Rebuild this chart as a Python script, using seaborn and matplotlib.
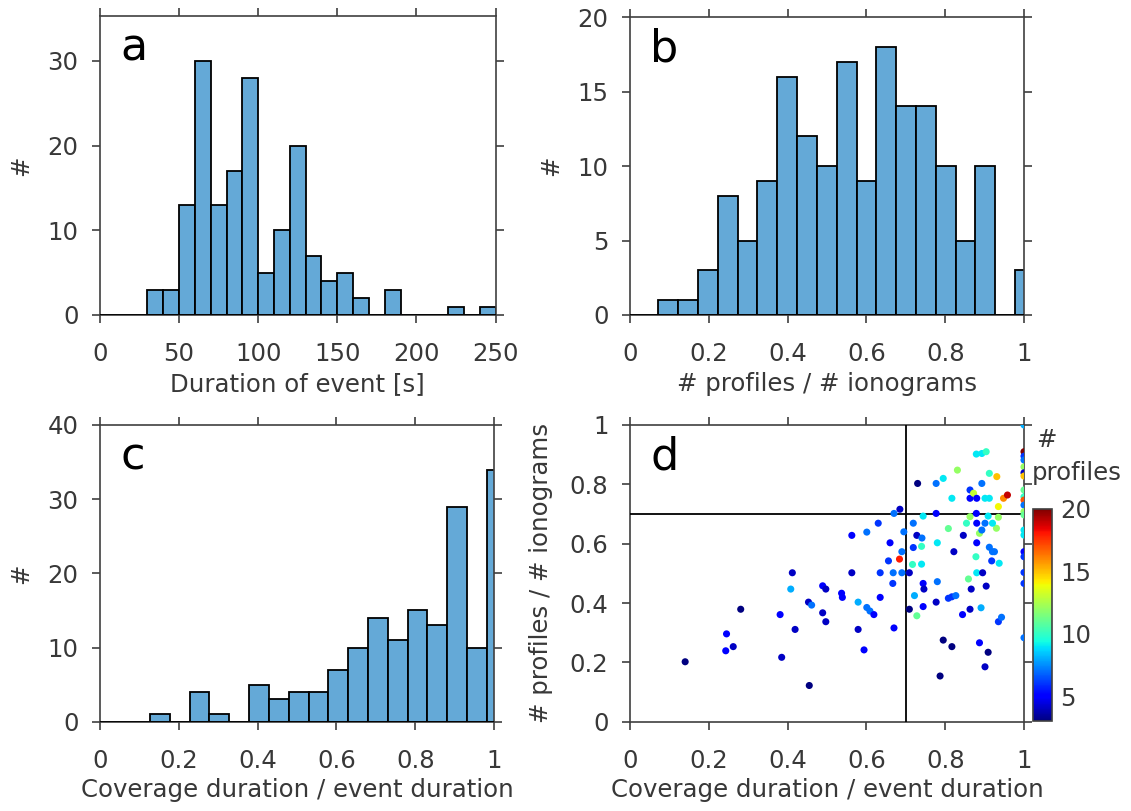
import numpy as np
import pandas as pd
import matplotlib
matplotlib.use("Agg")
import matplotlib.pyplot as plt
import seaborn as sns

# ---- data ----
# (a) event duration histogram, 10 s bins starting at 30 s
dur_bin_start = 30
dur_bin_width = 10
dur_counts = [3, 3, 13, 30, 13, 17, 28, 5, 10, 20, 7, 4, 5, 2, 0, 3, 0, 0, 0, 1, 0, 1]

# (b) profiles / ionograms histogram
ratio_bin_start = 0.072
ratio_bin_width = 0.0503
ratio_counts = [1, 1, 3, 8, 5, 9, 16, 12, 10, 17, 9, 18, 14, 14, 10, 5, 10, 0, 3]

# (c) coverage duration / event duration histogram
cov_bin_start = 0.127
cov_bin_width = 0.0503
cov_counts = [1, 0, 4, 1, 0, 5, 3, 4, 4, 7, 10, 14, 11, 15, 13, 29, 10, 34]

# (d) scatter: coverage vs ratio, coloured by number of profiles
d_coverage = [0.140, 0.245, 0.243, 0.262, 0.281, 0.385, 0.381, 0.408, 0.412, 0.419,
              0.453, 0.461, 0.455, 0.489, 0.497, 0.489, 0.497, 0.537, 0.539, 0.563,
              0.563, 0.579, 0.579, 0.601, 0.609, 0.619, 0.601, 0.594, 0.630, 0.635,
              0.635, 0.660, 0.656, 0.668, 0.667, 0.670, 0.684, 0.690, 0.690, 0.685,
              0.670, 0.695, 0.709, 0.709, 0.719, 0.717, 0.719, 0.728, 0.741, 0.730,
              0.740, 0.740, 0.744, 0.722, 0.744, 0.746, 0.744, 0.728, 0.777, 0.795,
              0.777, 0.780, 0.780, 0.777, 0.822, 0.808, 0.817, 0.831, 0.808, 0.817,
              0.827, 0.795, 0.817, 0.787, 0.844, 0.863, 0.846, 0.854, 0.863, 0.863,
              0.863, 0.872, 0.880, 0.879, 0.893, 0.904, 0.893, 0.901, 0.912, 0.912,
              0.931, 0.879, 0.880, 0.901, 0.909, 0.935, 0.935, 0.930, 0.920, 0.887,
              0.893, 0.880, 0.878, 0.880, 0.895, 0.859, 0.866, 0.904, 0.912, 0.920,
              0.918, 0.937, 0.891, 0.935, 0.943, 0.887, 0.909, 0.901, 0.948, 0.958,
              0.925,
              1.0, 1.0, 1.0, 1.0, 1.0, 1.0, 1.0, 1.0, 1.0, 1.0,
              1.0, 1.0, 1.0, 1.0, 1.0, 1.0, 1.0, 1.0, 1.0, 1.0]
d_ratio = [0.202, 0.296, 0.239, 0.253, 0.379, 0.217, 0.361, 0.447, 0.502, 0.311,
           0.403, 0.393, 0.122, 0.458, 0.447, 0.367, 0.337, 0.433, 0.419, 0.502,
           0.628, 0.403, 0.311, 0.385, 0.373, 0.361, 0.639, 0.242, 0.669, 0.502,
           0.419, 0.603, 0.542, 0.502, 0.466, 0.316, 0.548, 0.573, 0.502, 0.716,
           0.702, 0.640, 0.502, 0.379, 0.669, 0.530, 0.587, 0.628, 0.619, 0.803,
           0.591, 0.531, 0.693, 0.425, 0.466, 0.447, 0.388, 0.357, 0.803, 0.820,
           0.702, 0.603, 0.472, 0.403, 0.573, 0.651, 0.753, 0.848, 0.416, 0.421,
           0.425, 0.275, 0.253, 0.154, 0.361, 0.379, 0.628, 0.669, 0.691, 0.781,
           0.753, 0.770, 0.753, 0.902, 0.904, 0.910, 0.803, 0.753, 0.753, 0.837,
           0.826, 0.702, 0.669, 0.669, 0.693, 0.689, 0.725, 0.652, 0.669, 0.635,
           0.646, 0.603, 0.556, 0.502, 0.502, 0.481, 0.447, 0.457, 0.588, 0.573,
           0.542, 0.534, 0.384, 0.337, 0.352, 0.266, 0.234, 0.185, 0.753, 0.764,
           0.573,
           1.0, 0.910, 0.895, 0.882, 0.859, 0.839, 0.828, 0.781, 0.758, 0.747,
           0.730, 0.708, 0.697, 0.646, 0.629, 0.573, 0.556, 0.503, 0.466, 0.283]
d_profiles = [3, 5, 5, 4, 3, 4, 5, 8, 4, 4,
              4, 7, 3, 5, 4, 4, 4, 5, 5, 4,
              5, 8, 4, 7, 7, 5, 7, 5, 6, 6,
              5, 5, 6, 7, 6, 5, 18, 7, 7, 4,
              7, 7, 4, 3, 7, 10, 6, 4, 7, 3,
              10, 9, 9, 8, 5, 4, 5, 11, 7, 9,
              5, 9, 7, 4, 4, 11, 9, 12, 6, 6,
              7, 3, 3, 3, 5, 4, 4, 10, 12, 6,
              5, 13, 5, 9, 9, 10, 7, 9, 9, 10,
              15, 5, 5, 7, 9, 12, 14, 12, 9, 12,
              7, 5, 10, 9, 4, 11, 4, 4, 7, 7,
              6, 9, 8, 6, 7, 5, 3, 4, 16, 19,
              7,
              8, 20, 6, 7, 12, 4, 15, 11, 10, 17,
              7, 12, 11, 9, 9, 5, 6, 6, 6, 7]

prof_min, prof_max = 3, 20
threshold = 0.7

# ---- styling ----
sns.set_style("ticks")
plt.rcParams["font.family"] = ["DejaVu Sans"]
text_col = "#383838"
fs = 17.6
plt.rcParams.update({
    "font.size": fs,
    "axes.edgecolor": "#404040",
    "axes.linewidth": 1.2,
    "axes.labelcolor": text_col,
    "xtick.color": "#404040",
    "ytick.color": "#404040",
    "xtick.labelcolor": text_col,
    "ytick.labelcolor": text_col,
    "xtick.direction": "out",
    "ytick.direction": "out",
    "xtick.major.size": 5.5,
    "ytick.major.size": 5.5,
    "xtick.major.pad": 14,
    "ytick.major.pad": 10,
})
bar_col = "#64a9d7"
jet = matplotlib.colormaps["jet"]

fig = plt.figure(figsize=(11.31, 8.11), dpi=100)
W, H = 1131, 811


def px_axes(left, top, right, bottom):
    return fig.add_axes([left / W, 1 - bottom / H, (right - left) / W, (bottom - top) / H])


ax_a = px_axes(100, 16, 495.5, 315)
ax_b = px_axes(630, 17, 1024, 315)
ax_c = px_axes(100, 425, 494, 721.7)
ax_d = px_axes(630, 425, 1024, 721.7)
cax = px_axes(1033, 509, 1052, 721)


def hist_from_counts(ax, start, width, counts):
    edges = [start + width * k for k in range(len(counts) + 1)]
    centers = [(lo + hi) / 2 for lo, hi in zip(edges[:-1], edges[1:])]
    df = pd.DataFrame({"center": centers, "count": counts})
    sns.histplot(data=df, x="center", weights="count", bins=edges, ax=ax,
                 color=bar_col, alpha=1, edgecolor="black", linewidth=1.3)
    ax.axhline(0, color="black", lw=1.3, zorder=3)


hist_from_counts(ax_a, dur_bin_start, dur_bin_width, dur_counts)
ax_a.set_xlim(0, 250)
ax_a.set_ylim(0, 35.3)
ax_a.set_xticks([0, 50, 100, 150, 200, 250])
ax_a.set_yticks([0, 10, 20, 30])
ax_a.set_xlabel("Duration of event [s]")

hist_from_counts(ax_b, ratio_bin_start, ratio_bin_width, ratio_counts)
ax_b.set_xlim(0, 1)
ax_b.set_ylim(0, 20)
ax_b.set_yticks([0, 5, 10, 15, 20])
ax_b.set_xlabel("# profiles / # ionograms")

hist_from_counts(ax_c, cov_bin_start, cov_bin_width, cov_counts)
ax_c.set_xlim(0, 1)
ax_c.set_ylim(0, 40)
ax_c.set_yticks([0, 10, 20, 30, 40])
ax_c.set_xlabel("Coverage duration / event duration")

for ax in (ax_a, ax_b, ax_c):
    ax.set_ylabel("#", labelpad=10)

# scatter
df_d = pd.DataFrame({"coverage": d_coverage, "ratio": d_ratio, "profiles": d_profiles})
sns.scatterplot(data=df_d, x="coverage", y="ratio", hue="profiles", palette=jet,
                hue_norm=(prof_min, prof_max), s=26, linewidth=0, legend=False,
                ax=ax_d, zorder=4)
ax_d.axhline(threshold, color="black", lw=1.3, zorder=3)
ax_d.axvline(threshold, color="black", lw=1.3, zorder=3)
ax_d.set_xlim(0, 1)
ax_d.set_ylim(0, 1)
ax_d.set_yticks([0, 0.2, 0.4, 0.6, 0.8, 1])
ax_d.set_xlabel("Coverage duration / event duration")
ax_d.set_ylabel("# profiles / # ionograms", labelpad=12)

for ax in (ax_b, ax_c, ax_d):
    ax.set_xticks([0, 0.2, 0.4, 0.6, 0.8, 1])
    ax.set_xticklabels(["0", "0.2", "0.4", "0.6", "0.8", "1"])
ax_d.set_yticklabels(["0", "0.2", "0.4", "0.6", "0.8", "1"])

for ax, letter in zip((ax_a, ax_b, ax_c, ax_d), "abcd"):
    ax.tick_params(top=True, right=True, labelsize=fs, width=1.2)
    ax.text(0.052, 0.85, letter, transform=ax.transAxes, fontsize=32,
            color="black", ha="left", va="baseline")

# colorbar
sm = plt.cm.ScalarMappable(cmap=jet, norm=plt.Normalize(prof_min, prof_max))
cb = fig.colorbar(sm, cax=cax, ticks=[5, 10, 15, 20])
cb.outline.set_edgecolor("#404040")
cb.ax.tick_params(length=0, labelsize=fs, pad=6)
fig.text(1036 / W, 1 - 447 / H, "#", fontsize=fs, color=text_col, ha="left", va="baseline")
fig.text(1032 / W, 1 - 480 / H, "profiles", fontsize=fs, color=text_col, ha="left", va="baseline")

fig.savefig("out.png", dpi=100)
